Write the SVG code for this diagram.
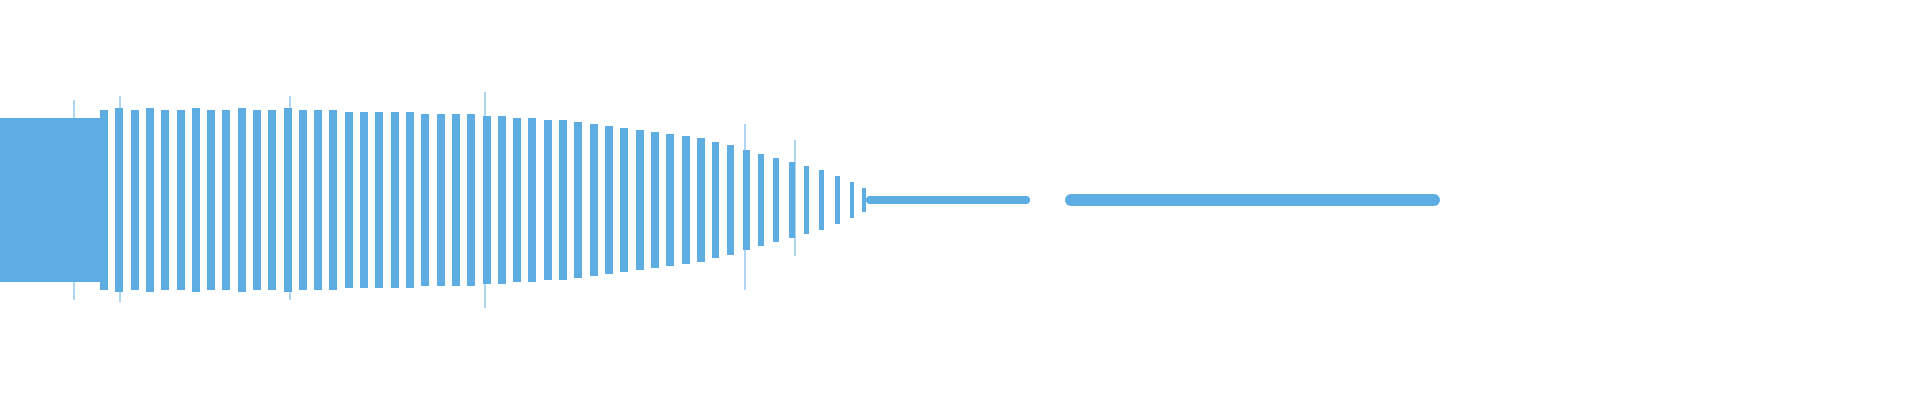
<svg xmlns="http://www.w3.org/2000/svg" width="1920" height="400" viewBox="0 0 1920 400">
<style>rect{fill:#5dade2}line{stroke:#5dade2;stroke-width:1}</style>
<rect width="1920" height="400" style="fill:#fff"/>
<g id="wave">
<rect x="0" y="118" width="104" height="164"/>
<rect x="100" y="110" width="8" height="180"/><rect x="115" y="108" width="8" height="184"/><rect x="131" y="110" width="8" height="180"/><rect x="146" y="108" width="8" height="184"/><rect x="161" y="110" width="8" height="180"/><rect x="177" y="110" width="8" height="180"/><rect x="192" y="108" width="8" height="184"/><rect x="207" y="110" width="8" height="180"/><rect x="222" y="110" width="8" height="180"/><rect x="238" y="108" width="8" height="184"/><rect x="253" y="110" width="8" height="180"/><rect x="268" y="110" width="8" height="180"/><rect x="284" y="108" width="8" height="184"/><rect x="299" y="110" width="8" height="180"/><rect x="314" y="110" width="8" height="180"/><rect x="329" y="110" width="8" height="180"/><rect x="345" y="112" width="8" height="176"/><rect x="360" y="112" width="8" height="176"/><rect x="375" y="112" width="8" height="176"/><rect x="391" y="112" width="8" height="176"/><rect x="406" y="112" width="8" height="176"/><rect x="421" y="114" width="8" height="172"/><rect x="437" y="114" width="8" height="172"/><rect x="452" y="114" width="8" height="172"/><rect x="467" y="114" width="8" height="172"/><rect x="483" y="116" width="8" height="168"/><rect x="498" y="116" width="8" height="168"/><rect x="513" y="118" width="8" height="164"/><rect x="528" y="118" width="8" height="164"/><rect x="544" y="120" width="8" height="160"/><rect x="559" y="120" width="8" height="160"/><rect x="574" y="122" width="8" height="156"/><rect x="590" y="124" width="8" height="152"/><rect x="605" y="126" width="8" height="148"/><rect x="620" y="128" width="8" height="144"/><rect x="636" y="130" width="8" height="140"/><rect x="651" y="132" width="8" height="136"/><rect x="666" y="134" width="8" height="132"/><rect x="682" y="136" width="8" height="128"/><rect x="697" y="138" width="8" height="124"/><rect x="712" y="142" width="7" height="116"/><rect x="727" y="145" width="7" height="110"/><rect x="743" y="150" width="7" height="100"/><rect x="758" y="154" width="6" height="92"/><rect x="773" y="158" width="6" height="84"/><rect x="789" y="162" width="6" height="76"/><rect x="804" y="166" width="5" height="68"/><rect x="819" y="170" width="5" height="60"/><rect x="835" y="176" width="5" height="48"/><rect x="850" y="182" width="4" height="36"/><rect x="862" y="188" width="4" height="24"/>
<line x1="74" y1="100" x2="74" y2="300"/><line x1="120" y1="96" x2="120" y2="302"/><line x1="290" y1="96" x2="290" y2="300"/><line x1="485" y1="92" x2="485" y2="308"/><line x1="745" y1="124" x2="745" y2="290"/><line x1="795" y1="140" x2="795" y2="256"/>
<rect x="866" y="196" width="164" height="8" rx="4"/>
<rect x="1065" y="194" width="375" height="12" rx="6"/>
</g>
</svg>
